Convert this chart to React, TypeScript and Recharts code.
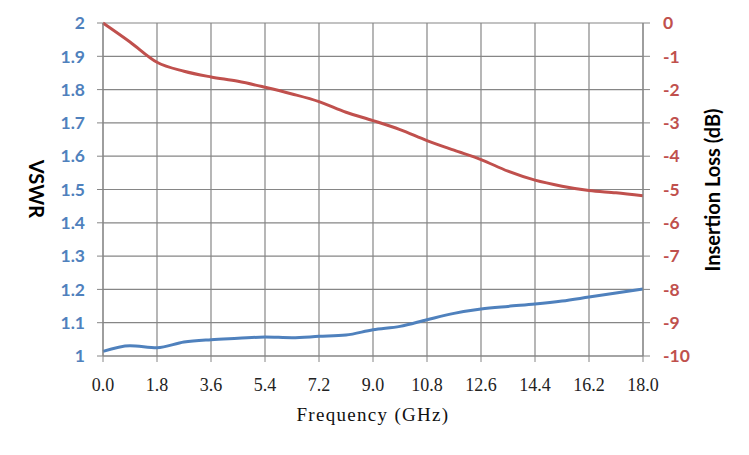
import { CartesianGrid, Line, LineChart, XAxis, YAxis } from 'recharts';

// frequency points (GHz)
const freq = [0, 0.9, 1.8, 2.7, 3.6, 4.5, 5.4, 6.3, 7.2, 8.1, 9.0, 9.9, 10.8, 11.7, 12.6, 13.5, 14.4, 15.3, 16.2, 17.1, 18.0];
const vswr = [1.014, 1.031, 1.025, 1.042, 1.049, 1.053, 1.057, 1.055, 1.059, 1.063, 1.079, 1.089, 1.109, 1.128, 1.141, 1.149, 1.156, 1.165, 1.177, 1.189, 1.201];
const insertionLoss = [0, -0.57, -1.18, -1.45, -1.62, -1.75, -1.93, -2.13, -2.36, -2.68, -2.93, -3.2, -3.53, -3.82, -4.1, -4.45, -4.72, -4.9, -5.03, -5.1, -5.19];

const freqTicks = [0, 1.8, 3.6, 5.4, 7.2, 9.0, 10.8, 12.6, 14.4, 16.2, 18.0];
const vswrTicks = [1, 1.1, 1.2, 1.3, 1.4, 1.5, 1.6, 1.7, 1.8, 1.9, 2];
const lossTicks = [-10, -9, -8, -7, -6, -5, -4, -3, -2, -1, 0];

const BLUE = '#4F81BD';
const RED = '#C0504D';
const GRID = '#868686';
const labelFont = 'Lato, "Open Sans", sans-serif';

export default function App() {
    const data = freq.map((f, i) => ({ f, vswr: vswr[i], loss: insertionLoss[i] }));

    return (
        <div style={{ width: 749, height: 455, background: '#fff' }}>
            <style>{'body{margin:0}'}</style>
            <LineChart width={749} height={455} data={data} margin={{ top: 23, right: 0, left: 0, bottom: 0 }}>
                <CartesianGrid stroke={GRID} strokeWidth={1.2} yAxisId="left" />
                <XAxis
                    dataKey="f"
                    type="number"
                    domain={[0, 18]}
                    ticks={freqTicks}
                    tickFormatter={(v: number) => v.toFixed(1)}
                    height={99}
                    stroke={GRID}
                    tickSize={6}
                    tickMargin={16}
                    tick={{ fill: '#222', fontFamily: '"Liberation Serif", serif', fontSize: 18 }}
                    label={{
                        content: () => (
                            <text x={373} y={421} textAnchor="middle" fill="#111" style={{ fontFamily: '"Liberation Serif", serif', fontSize: 19, letterSpacing: 1.3 }}>
                                Frequency (GHz)
                            </text>
                        ),
                    }}
                />
                <YAxis
                    yAxisId="left"
                    domain={[1, 2]}
                    ticks={vswrTicks}
                    tickFormatter={(v: number) => String(+v.toFixed(1))}
                    width={103}
                    stroke={GRID}
                    tickSize={6}
                    tickMargin={12}
                    tick={{ fill: BLUE, fontFamily: labelFont, fontWeight: 700, fontSize: 17.5 }}
                    label={{
                        content: () => (
                            <text x={37} y={189} transform="rotate(90 37 189)" textAnchor="middle" dominantBaseline="central" fill="#000" style={{ fontFamily: labelFont, fontWeight: 700, fontSize: 20 }}>
                                VSWR
                            </text>
                        ),
                    }}
                />
                <YAxis
                    yAxisId="right"
                    orientation="right"
                    domain={[-10, 0]}
                    ticks={lossTicks}
                    width={106}
                    stroke={GRID}
                    tickSize={7}
                    tickMargin={13}
                    tick={{ fill: RED, fontFamily: labelFont, fontWeight: 700, fontSize: 17.5, textAnchor: 'start' }}
                    label={{
                        content: () => (
                            <text x={712} y={190} transform="rotate(-90 712 190)" textAnchor="middle" dominantBaseline="central" fill="#000" style={{ fontFamily: labelFont, fontWeight: 700, fontSize: 20 }}>
                                Insertion Loss (dB)
                            </text>
                        ),
                    }}
                />
                <Line yAxisId="left" type="monotone" dataKey="vswr" stroke={BLUE} strokeWidth={3} dot={false} isAnimationActive={false} />
                <Line yAxisId="right" type="monotone" dataKey="loss" stroke={RED} strokeWidth={3} dot={false} isAnimationActive={false} />
            </LineChart>
        </div>
    );
}
